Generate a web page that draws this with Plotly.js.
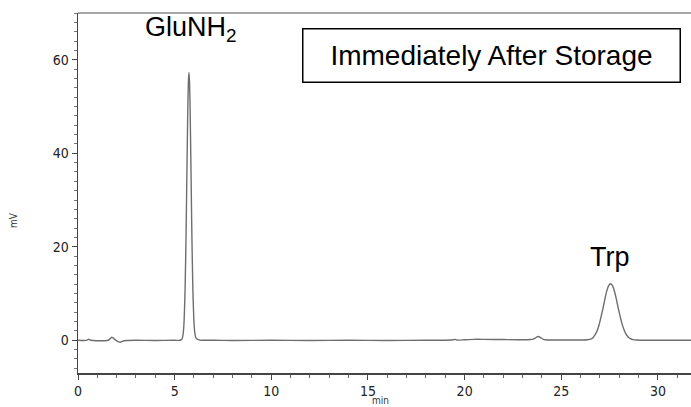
<!DOCTYPE html>
<html>
<head>
<meta charset="utf-8">
<script src="https://cdn.plot.ly/plotly-3.0.1.min.js"></script>
<style>
html,body{margin:0;padding:0;background:#fff;}
#chart{width:691px;height:407px;}
</style>
</head>
<body>
<div id="chart"></div>
<script>
// Retention time (min)
const timeMin = [
  0, 0.3, 0.5, 0.55, 0.6, 0.8, 1.2, 1.5, 1.6, 1.7, 1.75, 1.8, 1.9, 2.0, 2.1, 2.2, 2.3, 2.5, 3.0, 4.0, 5.0,
  5.29, 5.39, 5.44, 5.49, 5.54, 5.59, 5.64, 5.68, 5.71, 5.74, 5.77, 5.80, 5.84, 5.89, 5.94, 5.99, 6.04, 6.09, 6.15, 6.25, 6.4,
  7, 8, 10, 12, 14, 16, 18, 19, 19.4, 19.5, 19.6, 20, 20.5, 21, 22, 23,
  23.4, 23.55, 23.65, 23.75, 23.8, 23.85, 23.95, 24.05, 24.2, 24.4, 25, 26, 26.35,
  26.55, 26.65, 26.75, 26.85, 26.95, 27.05, 27.15, 27.25, 27.35, 27.45, 27.55, 27.65, 27.75, 27.85, 27.95,
  28.05, 28.15, 28.25, 28.35, 28.45, 28.55, 28.7, 28.9, 29.5, 30, 31, 31.8
];
// Detector signal (mV)
const signalMV = [
  0.0, -0.05, 0.1, 0.25, 0.1, -0.05, -0.1, -0.05, 0.1, 0.5, 0.65, 0.55, 0.2, -0.1, -0.35, -0.4, -0.2, -0.05, 0.0, -0.05, 0.0,
  0.0, 0.35, 1.4, 4.3, 11.0, 22.6, 37.9, 49.4, 55.2, 57.3, 55.2, 49.4, 37.9, 22.6, 11.2, 4.6, 1.7, 0.6, 0.3, 0.1, 0.0,
  0.0, -0.05, 0.0, -0.05, 0.0, -0.05, 0.0, 0.0, 0.1, 0.2, 0.05, 0.1, 0.2, 0.2, 0.15, 0.1,
  0.15, 0.25, 0.45, 0.75, 0.8, 0.75, 0.5, 0.25, 0.1, 0.05, 0.05, 0.05, 0.1,
  0.3, 0.6, 1.2, 2.0, 3.2, 4.9, 6.7, 8.7, 10.5, 11.7, 12.1, 11.7, 10.5, 8.8, 6.8,
  5.0, 3.4, 2.2, 1.3, 0.75, 0.4, 0.15, 0.05, 0.0, 0.0, 0.0, 0.0
];
// Axis ticks
const xTicks = [0, 5, 10, 15, 20, 25, 30];
const yTicks = [0, 20, 40, 60];
// Labels
const peakLabels = ["GluNH<sub>2</sub>", "Trp"];
const peakLabelX = [5.85, 27.53];
const peakLabelY = [66.5, 17.8];
const boxLabel = "Immediately After Storage";
const xTitle = "min";
const yTitle = "mV";

const tickFont = {family: "Liberation Sans Narrow, DejaVu Sans Condensed, Arial, sans-serif", size: 14, color: "#222"};
const bigFont = {family: "Liberation Sans, Arial, sans-serif", size: 27, color: "#000"};

const trace = {
  x: timeMin, y: signalMV, type: "scatter", mode: "lines",
  line: {color: "#6e6e6e", width: 1.4, shape: "spline", smoothing: 0.6},
  hoverinfo: "skip"
};

const layout = {
  width: 691, height: 407,
  margin: {l: 78, r: 0, t: 13, b: 34, pad: 0},
  paper_bgcolor: "#fff", plot_bgcolor: "#fff",
  showlegend: false,
  xaxis: {
    range: [0, 31.71], tickvals: xTicks, ticktext: xTicks.map(String),
    ticks: "outside", ticklen: 5, tickwidth: 1, tickcolor: "#444",
    minor: {dtick: 1, tick0: 0, ticks: "outside", ticklen: 3, tickcolor: "#666", tickwidth: 1},
    showline: true, linecolor: "#444", linewidth: 1.5,
    showgrid: false, zeroline: false, tickfont: tickFont, automargin: false
  },
  yaxis: {
    range: [-7, 70], tickvals: yTicks, ticktext: yTicks.map(String),
    ticks: "outside", ticklen: 5, tickwidth: 1, tickcolor: "#444",
    minor: {dtick: 2, tick0: 0, ticks: "outside", ticklen: 3, tickcolor: "#777", tickwidth: 1},
    showline: true, linecolor: "#444", linewidth: 1.5,
    showgrid: false, zeroline: false, tickfont: tickFont, automargin: false
  },
  shapes: [
    {type: "line", xref: "paper", yref: "paper", x0: 0, x1: 1, y0: 1, y1: 1,
     line: {color: "#8a8a8a", width: 1.5}}
  ],
  annotations: [
    {text: peakLabels[0], x: peakLabelX[0], y: peakLabelY[0], xref: "x", yref: "y",
     showarrow: false, font: bigFont, xanchor: "center", yanchor: "middle"},
    {text: peakLabels[1], x: peakLabelX[1], y: peakLabelY[1], xref: "x", yref: "y",
     showarrow: false, font: bigFont, xanchor: "center", yanchor: "middle"},
    {text: boxLabel, x: 0.6753, y: 0.8833, xref: "paper", yref: "paper",
     showarrow: false, font: {family: "Liberation Sans, Arial, sans-serif", size: 28, color: "#000"},
     xanchor: "center", yanchor: "middle", width: 376, height: 52,
     bordercolor: "#000", borderwidth: 1.5, borderpad: 0, bgcolor: "#fff"},
    {text: yTitle, x: 0, y: 0.425, xref: "paper", yref: "paper", xshift: -64,
     showarrow: false, textangle: -90,
     font: {family: "Liberation Sans Narrow, DejaVu Sans Condensed, sans-serif", size: 10, color: "#333"},
     xanchor: "center", yanchor: "middle"},
    {text: xTitle, x: 15.65, y: 0, xref: "x", yref: "paper", yshift: -27,
     showarrow: false,
     font: {family: "Liberation Sans Narrow, DejaVu Sans Condensed, sans-serif", size: 10, color: "#333"},
     xanchor: "center", yanchor: "middle"}
  ]
};

Plotly.newPlot("chart", [trace], layout, {staticPlot: true, displayModeBar: false});
</script>
</body>
</html>
